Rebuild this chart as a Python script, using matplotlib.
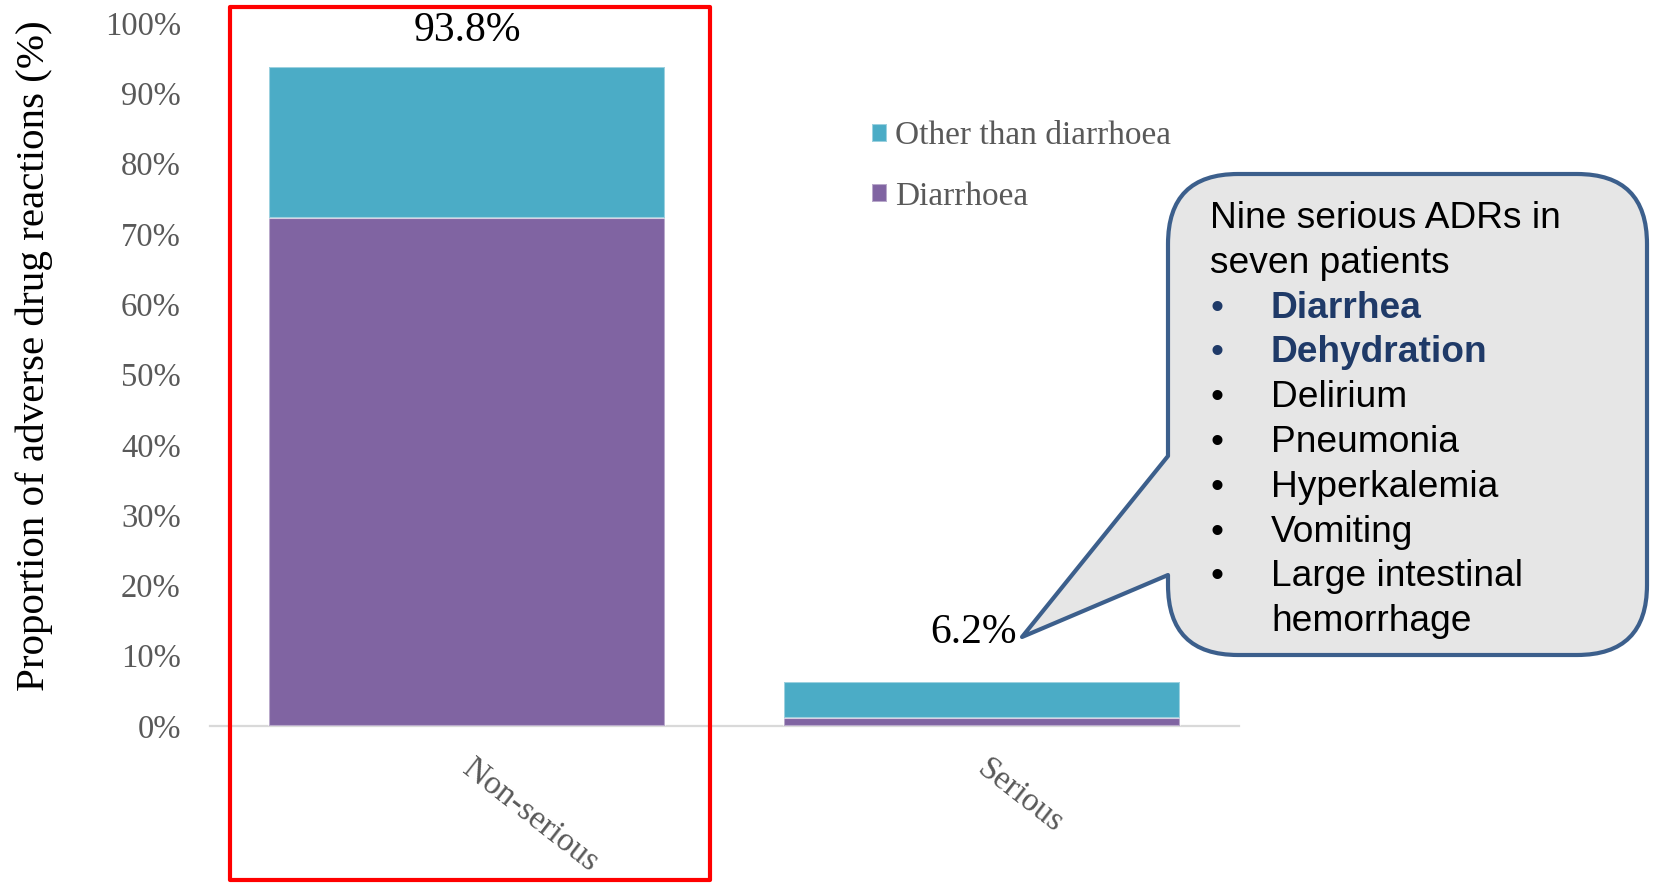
import matplotlib
matplotlib.use("Agg")
import matplotlib.pyplot as plt
import matplotlib.transforms as mtransforms
from matplotlib.path import Path
from matplotlib.patches import PathPatch, Rectangle

W, H = 1656, 883

categories = ["Non-serious", "Serious"]
diarrhoea = [72.2, 1.2]
other = [21.6, 5.0]
totals = ["93.8%", "6.2%"]
ytick_vals = [0, 10, 20, 30, 40, 50, 60, 70, 80, 90, 100]

callout_head = ["Nine serious ADRs in", "seven patients"]
callout_items = ["Diarrhea", "Dehydration", "Delirium", "Pneumonia",
                 "Hyperkalemia", "Vomiting", "Large intestinal"]
callout_bold = [True, True, False, False, False, False, False]
callout_tail = "hemorrhage"

teal = "#4BACC6"
purple = "#8064A2"
grey_txt = "#595959"
navy = "#1F3A68"
serif = ["Liberation Serif", "DejaVu Serif"]
sans = ["Liberation Sans", "DejaVu Sans"]

fig = plt.figure(figsize=(W / 100, H / 100), dpi=100)
ax = fig.add_axes([210 / W, 157 / H, 1029 / W, 703 / H])

x = list(range(len(categories)))
b1 = ax.bar(x, diarrhoea, width=0.77, color=purple, edgecolor=(1, 1, 1, 0.45),
            linewidth=1.5, label="Diarrhoea", zorder=2)
b2 = ax.bar(x, other, width=0.77, bottom=diarrhoea, color=teal,
            edgecolor=(1, 1, 1, 0.45), linewidth=1.5, label="Other than diarrhoea", zorder=2)

ax.set_xlim(-0.5, 1.5)
ax.set_ylim(0, 100)
ax.set_yticks(ytick_vals)
ax.set_yticklabels([f"{v}%" for v in ytick_vals], fontfamily=serif, fontsize=23.5, color=grey_txt)
ax.tick_params(axis="y", length=0, pad=21)
ax.set_xticks(x)
ax.set_xticklabels(categories, rotation=-38, ha="left", va="top", rotation_mode="anchor",
                   fontfamily=serif, fontsize=24, color=grey_txt)
ax.tick_params(axis="x", length=0, pad=20)
shift = mtransforms.ScaledTranslation(8 / 100, 0, fig.dpi_scale_trans)
for lab in ax.get_xticklabels():
    lab.set_transform(lab.get_transform() + shift)
for s in ["top", "right", "left"]:
    ax.spines[s].set_visible(False)
ax.spines["bottom"].set_color("#D9D9D9")
ax.spines["bottom"].set_linewidth(1.6)
ax.spines["bottom"].set_zorder(1)

# value labels on top of the stacks
offsets = [(0, 12), (-6, 22)]
for i, lab in enumerate(totals):
    ax.annotate(lab, (x[i], diarrhoea[i] + other[i]), xytext=offsets[i],
                textcoords="offset points", ha="center", va="bottom",
                fontfamily=serif, fontsize=30, color="black")

fig.text(34 / W, 1 - 356 / H, "Proportion of adverse drug reactions (%)", rotation=90,
         ha="center", va="center", fontfamily=serif, fontsize=29.5, color="black")

leg = ax.legend(handles=[b2, b1], loc="upper left", bbox_to_anchor=(872 / W, 1 - 121 / H),
                bbox_transform=fig.transFigure, frameon=False, borderpad=0, borderaxespad=0,
                handlelength=0.45, handleheight=0.45, handletextpad=0.25, labelspacing=0.9,
                prop={"family": serif, "size": 24})
for t in leg.get_texts():
    t.set_color(grey_txt)

# red highlight box around the non-serious column
fig.patches.append(Rectangle((230 / W, 1 - 880 / H), 480 / W, 873 / H, transform=fig.transFigure,
                             fill=False, edgecolor="#FF0000", linewidth=3, joinstyle="round"))

# speech-bubble callout
L, R, T, B, r = 1168, 1647, 174, 655, 70
tip = (1022, 637)
pts = [((L + r, T), Path.MOVETO), ((R - r, T), Path.LINETO),
       ((R, T), Path.CURVE3), ((R, T + r), Path.CURVE3),
       ((R, B - r), Path.LINETO),
       ((R, B), Path.CURVE3), ((R - r, B), Path.CURVE3),
       ((L + r, B), Path.LINETO),
       ((L, B), Path.CURVE3), ((L, B - r), Path.CURVE3),
       ((L, 575), Path.LINETO), (tip, Path.LINETO), ((L, 456), Path.LINETO),
       ((L, T + r), Path.LINETO),
       ((L, T), Path.CURVE3), ((L + r, T), Path.CURVE3),
       ((L + r, T), Path.CLOSEPOLY)]
verts = [(px / W, 1 - py / H) for (px, py), _ in pts]
codes = [c for _, c in pts]
fig.patches.append(PathPatch(Path(verts, codes), transform=fig.transFigure,
                             facecolor="#E6E6E6", edgecolor="#3C5F8C", linewidth=3,
                             joinstyle="round"))

line_h = 44.8
base0 = 228
for k, s in enumerate(callout_head):
    fig.text(1210 / W, 1 - (base0 + k * line_h) / H, s, ha="left", va="baseline",
             fontfamily=sans, fontsize=26.7, color="black")
for k, s in enumerate(callout_items):
    yb = 1 - (base0 + (k + 2) * line_h) / H
    col = navy if callout_bold[k] else "black"
    fig.text(1217 / W, yb, "\u2022", ha="center", va="baseline", fontfamily=sans,
             fontsize=26.7, color=col)
    fig.text(1271 / W, yb, s, ha="left", va="baseline", fontfamily=sans, fontsize=26.7,
             color=col, fontweight="bold" if callout_bold[k] else "normal")
fig.text(1271 / W, 1 - (base0 + 9 * line_h) / H, callout_tail, ha="left", va="baseline",
         fontfamily=sans, fontsize=26.7, color="black")

fig.savefig("out.png", dpi=100)
